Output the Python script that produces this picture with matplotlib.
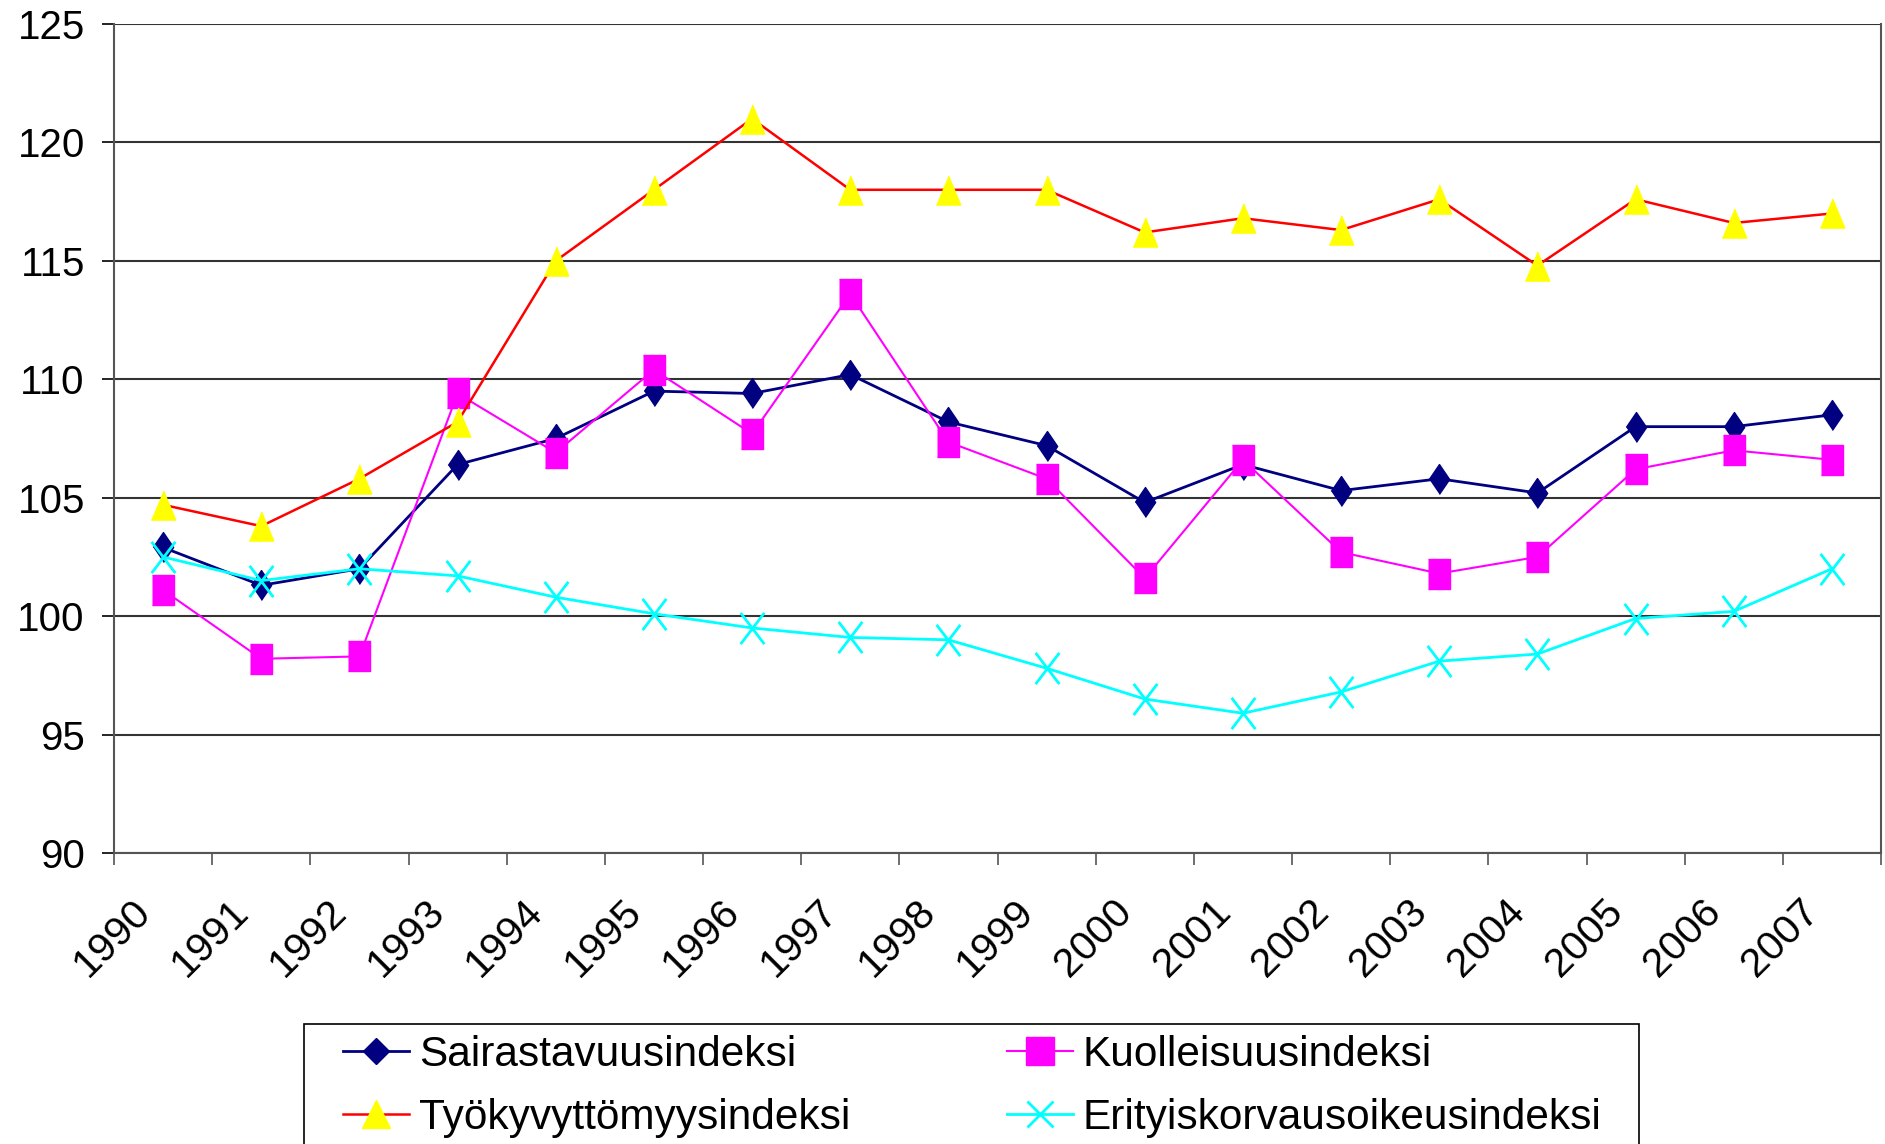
import numpy as np
import matplotlib
matplotlib.use("Agg")
import matplotlib.pyplot as plt
from matplotlib.path import Path
from matplotlib.patches import Rectangle

plt.rcParams['font.family'] = ['Liberation Sans', 'DejaVu Sans']

years = [str(y) for y in range(1990, 2008)]

sairastavuus = [102.9, 101.3, 102.0, 106.4, 107.5, 109.5, 109.4, 110.2, 108.2,
                107.2, 104.8, 106.4, 105.3, 105.8, 105.2, 108.0, 108.0, 108.5]
kuolleisuus = [101.1, 98.2, 98.3, 109.4, 106.9, 110.4, 107.7, 113.6, 107.35,
               105.8, 101.6, 106.6, 102.7, 101.8, 102.5, 106.2, 107.0, 106.6]
tyokyvyttomyys = [104.7, 103.8, 105.8, 108.2, 115.0, 118.0, 121.0, 118.0, 118.0,
                  118.0, 116.2, 116.8, 116.3, 117.6, 114.8, 117.6, 116.6, 117.0]
erityiskorvaus = [102.5, 101.5, 102.0, 101.7, 100.8, 100.1, 99.5, 99.1, 99.0,
                  97.8, 96.5, 95.9, 96.8, 98.1, 98.4, 99.9, 100.2, 102.0]

labels = ["Sairastavuusindeksi", "Kuolleisuusindeksi",
          "Työkyvyttömyysindeksi", "Erityiskorvausoikeusindeksi"]

# tall markers (chart area is stretched vertically)
diamond = [(0, -0.5), (0.34, 0), (0, 0.5), (-0.34, 0)]
rect = [(-0.38, -0.5), (0.38, -0.5), (0.38, 0.5), (-0.38, 0.5)]
tri = [(-0.42, -0.5), (0.42, -0.5), (0, 0.5)]
xmark = Path([(-0.38, -0.5), (0.38, 0.5), (-0.38, 0.5), (0.38, -0.5)],
             [Path.MOVETO, Path.LINETO, Path.MOVETO, Path.LINETO])

fig = plt.figure(figsize=(18.85, 11.44), dpi=100)
ax = fig.add_axes([114 / 1885, 1 - 853 / 1144, 1767 / 1885, 829 / 1144])

x = np.arange(len(years))
ax.plot(x, sairastavuus, color='#000080', lw=2, marker=diamond, ms=21.5,
        mec='#000080', mfc='#000080', mew=1, zorder=3)
ax.plot(x, kuolleisuus, color='#FF00FF', lw=1.5, marker=rect, ms=21,
        mec='#FF00FF', mfc='#FF00FF', mew=1, zorder=3)
ax.plot(x, tyokyvyttomyys, color='#FF0000', lw=1.8, marker=tri, ms=21,
        mec='#FFFF00', mfc='#FFFF00', mew=1, zorder=3)
ax.plot(x, erityiskorvaus, color='#00FFFF', lw=2, marker=xmark, ms=22.5,
        mec='#00FFFF', mew=2, zorder=3)

ax.set_xlim(-0.5, len(years) - 0.5)
ax.set_ylim(90, 125)
ax.set_yticks(np.arange(90, 126, 5))
ax.yaxis.grid(True, color='#333333', lw=1.5)
ax.set_axisbelow(True)

# labels sit a little left of the category centre, as in Excel
ax.set_xticks(x - 0.19)
ax.set_xticklabels(years, rotation=45, ha='right', va='center',
                   rotation_mode='anchor')
ax.set_xticks(np.arange(-0.5, len(years)), minor=True)
ax.tick_params(axis='x', which='major', length=0, pad=38, labelsize=29.5)
ax.tick_params(axis='x', which='minor', length=8.5, width=1.2, color='#555555')
ax.tick_params(axis='y', length=9, width=1.2, pad=12, labelsize=29)

for s in ax.spines.values():
    s.set_color('#555555')
    s.set_linewidth(1.5)
ax.spines['top'].set_visible(False)

# legend: Excel fills row by row, so order handles column-wise
h_s = plt.Line2D([], [], color='#000080', lw=2, marker='D', ms=13.5, mfc='#000080', mec='#000080')
h_k = plt.Line2D([], [], color='#FF00FF', lw=1.5, marker='s', ms=19.5, mfc='#FF00FF', mec='#FF00FF')
h_t = plt.Line2D([], [], color='#FF0000', lw=1.8, marker='^', ms=19.5, mfc='#FFFF00', mec='#FFFF00')
h_e = plt.Line2D([], [], color='#00FFFF', lw=2, marker='x', ms=19, mew=2, mec='#00FFFF')
leg = fig.legend([h_s, h_t, h_k, h_e], [labels[0], labels[2], labels[1], labels[3]],
                 ncol=2, loc='center left',
                 bbox_to_anchor=(343 / 1885, 1 - 1086.5 / 1144),
                 fontsize=30.5, frameon=False,
                 handlelength=1.56, handletextpad=0.23, columnspacing=3.7,
                 borderpad=0, labelspacing=0.55, borderaxespad=0)
fig.patches.append(Rectangle((304 / 1885, -0.05), (1639 - 304) / 1885,
                             1 - 1024 / 1144 + 0.05, transform=fig.transFigure,
                             fill=False, edgecolor='black', lw=1.2))

fig.savefig("out.png", dpi=100)
